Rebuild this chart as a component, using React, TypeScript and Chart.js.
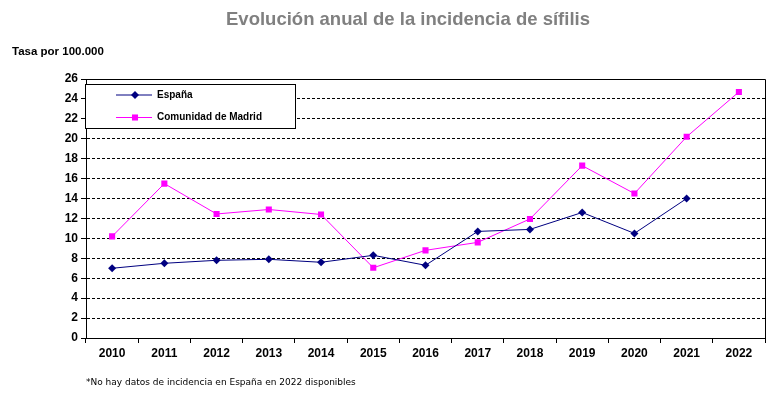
import React, { useEffect, useRef } from "react";
import { Chart, registerables } from "chart.js";

Chart.register(...registerables);

const years = ["2010", "2011", "2012", "2013", "2014", "2015", "2016", "2017", "2018", "2019", "2020", "2021", "2022"];
const espana = [7.0, 7.5, 7.8, 7.9, 7.6, 8.3, 7.3, 10.7, 10.9, 12.6, 10.5, 14.0, null];
const madrid = [10.2, 15.5, 12.45, 12.9, 12.4, 7.05, 8.8, 9.6, 11.95, 17.3, 14.5, 20.2, 24.7];
const yTicksMin = 0;
const yTicksMax = 26;
const yStep = 2;

const titleText = "Evolución anual de la incidencia de sífilis";
const yAxisTitle = "Tasa por 100.000";
const footnote = "*No hay datos de incidencia en España en 2022 disponibles";
const seriesNames = ["España", "Comunidad de Madrid"];

const NAVY = "#000080";
const MAGENTA = "#FF00FF";

function drawMarker(ctx: CanvasRenderingContext2D, style: string, x: number, y: number, r: number, color: string) {
  ctx.save();
  ctx.fillStyle = color;
  ctx.beginPath();
  if (style === "rectRot") {
    ctx.moveTo(x, y - r);
    ctx.lineTo(x + r, y);
    ctx.lineTo(x, y + r);
    ctx.lineTo(x - r, y);
    ctx.closePath();
  } else {
    const s = r * Math.SQRT1_2;
    ctx.rect(x - s, y - s, 2 * s, 2 * s);
  }
  ctx.fill();
  ctx.restore();
}

const decorPlugin = {
  id: "decor",
  beforeDraw(chart: any) {
    const ctx: CanvasRenderingContext2D = chart.ctx;
    ctx.save();
    ctx.fillStyle = "#ffffff";
    ctx.fillRect(0, 0, chart.width, chart.height);
    ctx.restore();
  },
  afterDraw(chart: any) {
    const ctx: CanvasRenderingContext2D = chart.ctx;
    const ca = chart.chartArea;
    ctx.save();
    // plot border top/right
    ctx.strokeStyle = "#000";
    ctx.lineWidth = 1;
    ctx.beginPath();
    ctx.moveTo(Math.round(ca.left) + 0.5, Math.round(ca.top) + 0.5);
    ctx.lineTo(Math.round(ca.right) + 0.5, Math.round(ca.top) + 0.5);
    ctx.lineTo(Math.round(ca.right) + 0.5, Math.round(ca.bottom) + 0.5);
    ctx.stroke();

    // title
    ctx.fillStyle = "#808080";
    ctx.font = "bold 18.5px 'Liberation Sans', Arial, sans-serif";
    ctx.textAlign = "center";
    ctx.textBaseline = "middle";
    ctx.fillText(titleText, 408, 20);

    // y axis title
    ctx.fillStyle = "#000";
    ctx.font = "bold 11.5px 'Liberation Sans', Arial, sans-serif";
    ctx.textAlign = "left";
    ctx.fillText(yAxisTitle, 12, 52);

    // footnote
    ctx.font = "9px 'DejaVu Sans', Verdana, sans-serif";
    ctx.fillText(footnote, ca.left, 383);

    // legend
    const lx = ca.left - 1;
    const ly = ca.top + 5;
    const lw = 210;
    const lh = 44;
    ctx.fillStyle = "#fff";
    ctx.fillRect(lx, ly, lw, lh);
    ctx.strokeStyle = "#000";
    ctx.strokeRect(Math.round(lx) + 0.5, Math.round(ly) + 0.5, lw, lh);
    chart.data.datasets.forEach((ds: any, i: number) => {
      const y = ly + 11 + i * 22.5;
      ctx.strokeStyle = ds.borderColor;
      ctx.lineWidth = 1;
      ctx.beginPath();
      ctx.moveTo(lx + 31, y);
      ctx.lineTo(lx + 67, y);
      ctx.stroke();
      drawMarker(ctx, ds.pointStyle, lx + 50, y, ds.pointRadius, ds.backgroundColor);
      ctx.fillStyle = "#000";
      ctx.font = "bold 10px 'Liberation Sans', Arial, sans-serif";
      ctx.textAlign = "left";
      ctx.textBaseline = "middle";
      ctx.fillText(ds.label, lx + 72, y);
    });
    ctx.restore();
  },
};

export default function App() {
  const ref = useRef<HTMLCanvasElement | null>(null);
  useEffect(() => {
    document.body.style.margin = "0";
    if (!ref.current) return;
    const chart = new Chart(ref.current, {
      type: "line",
      data: {
        labels: years,
        datasets: [
          {
            label: seriesNames[0],
            data: espana,
            borderColor: NAVY,
            backgroundColor: NAVY,
            borderWidth: 1,
            pointStyle: "rectRot",
            pointRadius: 4,
            pointBorderWidth: 0,
            pointHoverRadius: 4,
            tension: 0,
          },
          {
            label: seriesNames[1],
            data: madrid,
            borderColor: MAGENTA,
            backgroundColor: MAGENTA,
            borderWidth: 1,
            pointStyle: "rect",
            pointRadius: 4.3,
            pointBorderWidth: 0,
            pointHoverRadius: 4.3,
            tension: 0,
          },
        ],
      },
      options: {
        responsive: false,
        animation: false,
        devicePixelRatio: 1,
        layout: { padding: { top: 79, right: 9, left: 0, bottom: 0 } },
        plugins: {
          legend: { display: false },
          title: { display: false },
          tooltip: { enabled: false },
        },
        scales: {
          x: {
            type: "category",
            offset: true,
            afterFit: (s: any) => {
              s.height = 62;
            },
            grid: {
              offset: true,
              drawOnChartArea: false,
              drawTicks: true,
              tickLength: 5,
              color: "#000",
              tickColor: "#000",
            },
            border: { display: true, color: "#000", width: 1 },
            ticks: {
              color: "#000",
              font: { family: "'Liberation Sans', Arial, sans-serif", size: 12, weight: "bold" },
              maxRotation: 0,
              autoSkip: false,
              padding: 3,
            },
          },
          y: {
            min: yTicksMin,
            max: yTicksMax,
            afterFit: (s: any) => {
              s.width = 86;
            },
            grid: {
              color: "#000",
              tickColor: "#000",
              tickLength: 5,
              lineWidth: 1,
            },
            border: { display: true, color: "#000", width: 1, dash: [3, 2] },
            ticks: {
              stepSize: yStep,
              color: "#000",
              font: { family: "'Liberation Sans', Arial, sans-serif", size: 12, weight: "bold" },
              padding: 3,
            },
          },
        },
      },
      plugins: [decorPlugin],
    } as any);
    return () => chart.destroy();
  }, []);
  return <canvas ref={ref} width={774} height={400} style={{ display: "block", width: 774, height: 400 }} />;
}
